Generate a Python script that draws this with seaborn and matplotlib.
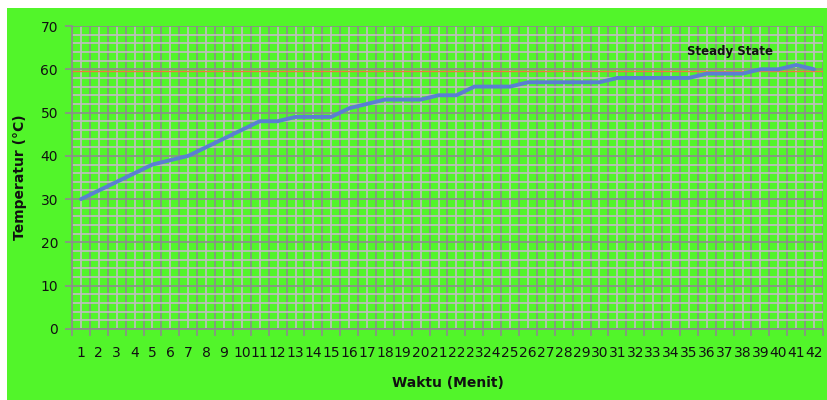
import matplotlib
matplotlib.use("Agg")
import matplotlib.pyplot as plt
import seaborn as sns
import pandas as pd
from matplotlib.ticker import MultipleLocator, FixedLocator
from matplotlib.patches import Rectangle

minutes = list(range(1, 43))
temperature = [30, 32, 34, 36, 38, 39, 40, 42, 44, 46, 48, 48, 49, 49, 49, 51, 52, 53, 53, 53,
               54, 54, 56, 56, 56, 57, 57, 57, 57, 57, 58, 58, 58, 58, 58, 59, 59, 59, 60, 60,
               61, 60]
steady_value = 60
annotation = "Steady State"
xlabel = "Waktu (Menit)"
ylabel = "Temperatur (°C)"

df = pd.DataFrame({"Waktu": minutes, "Temperatur": temperature})

sns.set_theme(style="white")
plt.rcParams['font.family'] = ['DejaVu Sans']

GREEN = "#52F52A"
fig = plt.figure(figsize=(8.27, 4.0), dpi=100)
fig.patch.set_facecolor("white")
fig.add_artist(Rectangle((7 / 827, 0), 1, 1 - 8 / 400, transform=fig.transFigure,
                         facecolor=GREEN, edgecolor="none", zorder=0))

ax = fig.add_axes([72 / 827, 71 / 400, 751 / 827, 303 / 400])
ax.set_facecolor(GREEN)

sns.lineplot(data=df, x="Waktu", y="Temperatur", ax=ax, color="#5A7FD2", lw=2.8, zorder=5)

ax.set_xlim(0.5, 42.5)
ax.set_ylim(0, 70)

ax.xaxis.set_major_locator(FixedLocator(minutes))
ax.set_xticklabels([str(m) for m in minutes])
ax.xaxis.set_minor_locator(FixedLocator([m + 0.5 for m in [0] + minutes]))
ax.yaxis.set_major_locator(MultipleLocator(10))
ax.yaxis.set_minor_locator(MultipleLocator(2))

ax.grid(False)
ax.grid(axis="x", which="minor", color="#8C8C8C", lw=1.2, zorder=1)
ax.grid(axis="x", which="major", color="#C2BCC2", lw=1.2, zorder=0.9)
ax.grid(axis="y", which="major", color="#8C8C8C", lw=1.2, zorder=1)
ax.grid(axis="y", which="minor", color="#C2BCC2", lw=1.2, zorder=0.9)
ax.set_axisbelow(True)

ax.axhline(steady_value - 0.3, color="#F07A3A", lw=1.0, zorder=2)

ax.tick_params(axis="x", which="major", length=0, pad=12, labelsize=10, colors="#111111")
ax.tick_params(axis="x", which="minor", length=5, color="#8C8C8C", width=1.2, direction="out", bottom=True)
ax.tick_params(axis="y", which="major", length=5, color="#8C8C8C", width=1.2, direction="out",
               pad=5, labelsize=10, labelcolor="#111111", left=True)
ax.tick_params(axis="y", which="minor", length=0)

for s in ["top", "right"]:
    ax.spines[s].set_visible(False)
for s in ["left", "bottom"]:
    ax.spines[s].set_color("#8C8C8C")
    ax.spines[s].set_linewidth(1.2)

ax.set_xlabel(xlabel, fontsize=10, fontweight="bold", color="#111111")
ax.set_ylabel(ylabel, fontsize=10, fontweight="bold", color="#111111")
ax.xaxis.set_label_coords(0.5, -0.178)
ax.yaxis.set_label_coords(-0.069, 0.5)
ax.xaxis.label.set_va("center")
ax.yaxis.label.set_va("center")

ax.text(37.3, 64.2, annotation, fontsize=8.5, fontweight="bold", color="#111111",
        ha="center", va="center", zorder=6)

fig.savefig("out.png", dpi=100, facecolor=fig.get_facecolor())
